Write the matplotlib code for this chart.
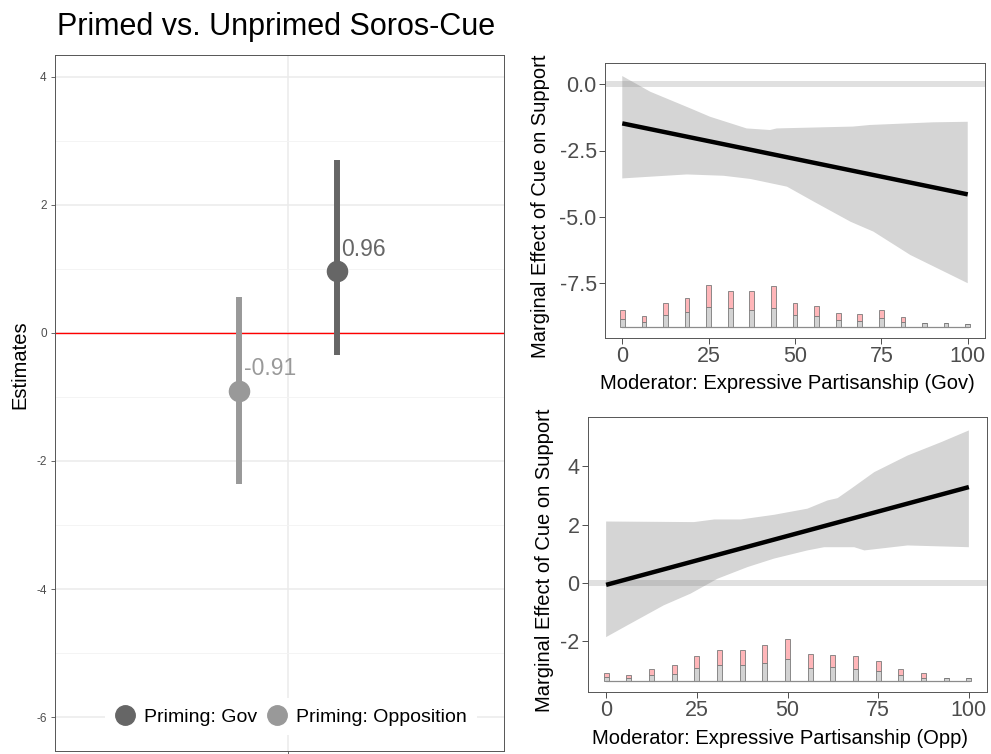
import matplotlib
matplotlib.use('Agg')
import matplotlib.pyplot as plt
import numpy as np
from matplotlib.lines import Line2D

plt.rcParams['font.family'] = ['Liberation Sans', 'DejaVu Sans']
plt.rcParams['axes.unicode_minus'] = False

# ---------------- Left panel data ----------------
title = 'Primed vs. Unprimed Soros-Cue'
groups = ['Priming: Gov', 'Priming: Opposition']
estimates = [0.96, -0.91]
ci_low = [-0.34, -2.36]
ci_high = [2.70, 0.56]
est_labels = ['0.96', '-0.91']
group_colors = ['#666666', '#999999']
left_yticks = [-6, -4, -2, 0, 2, 4]

# ---------------- Right panels data ----------------
mod_ends = [0, 100]
gov_line = [-1.48, -4.15]
gov_up_x = [0, 8.1, 19.6, 25.4, 36.0, 42.8, 44.7, 66.8, 71.7, 90, 100]
gov_up_y = [0.30, -0.29, -0.91, -1.23, -1.67, -1.73, -1.67, -1.60, -1.54, -1.44, -1.42]
gov_lo_x = [0, 18.7, 29.3, 37.1, 47.7, 55.4, 66.1, 72.7, 83.4, 100]
gov_lo_y = [-3.55, -3.40, -3.45, -3.57, -3.86, -4.42, -5.18, -5.55, -6.43, -7.49]

opp_line = [-0.06, 3.29]
opp_up_x = [0, 24.2, 29.8, 37.1, 46.3, 55.5, 61.0, 63.8, 67.5, 73.9, 83.1, 92.4, 100]
opp_up_y = [2.11, 2.09, 2.18, 2.18, 2.34, 2.55, 2.83, 2.91, 3.23, 3.80, 4.37, 4.83, 5.23]
opp_lo_x = [0, 5.8, 15.9, 23.3, 30.7, 39.0, 46.3, 55.5, 60.1, 68.4, 71.2, 83.1, 100]
opp_lo_y = [-1.85, -1.45, -0.76, -0.36, 0.15, 0.55, 0.84, 1.12, 1.23, 1.23, 1.12, 1.29, 1.23]

bins = [0, 6.25, 12.5, 18.75, 25, 31.25, 37.5, 43.75, 50, 56.25, 62.5, 68.75, 75,
        81.25, 87.5, 93.75, 100]
gov_hist_ctrl = [23, 15, 37, 45, 60, 58, 52, 58, 35, 32, 22, 18, 27, 15, 13, 11, 8]
gov_hist_trt = [29, 17, 36, 42, 66, 50, 56, 66, 38, 30, 20, 22, 24, 15, 0, 0, 0]
opp_hist_ctrl = [12, 8, 17, 20, 38, 48, 47, 53, 65, 40, 41, 35, 29, 19, 10, 10, 8]
opp_hist_trt = [11, 9, 18, 27, 37, 47, 48, 57, 62, 43, 38, 40, 30, 18, 13, 0, 0]

right_xticks = [0, 25, 50, 75, 100]
gov_yticks = [0.0, -2.5, -5.0, -7.5]
opp_yticks = [-2, 0, 2, 4]

W, H = 991, 754
fig = plt.figure(figsize=(W / 100, H / 100), dpi=100)


def frac(l, t, r, b):
    return [l / W, (H - b) / H, (r - l) / W, (b - t) / H]


# ---------------- Left panel ----------------
axL = fig.add_axes(frac(55, 55, 504, 751))
axL.set_xlim(0.52, 1.445)
axL.set_ylim(-6.53, 4.34)
axL.set_yticks(left_yticks)
axL.set_yticks([-5, -3, -1, 1, 3], minor=True)
axL.set_xticks([1])
axL.set_xticklabels([''])
axL.grid(True, which='major', color='#EBEBEB', linewidth=1.1, zorder=0)
axL.grid(True, which='minor', axis='y', color='#F3F3F3', linewidth=0.6, zorder=0)
axL.set_axisbelow(True)
for s in axL.spines.values():
    s.set_color('#555555')
    s.set_linewidth(0.7)
axL.tick_params(axis='both', which='major', colors='#4D4D4D', labelsize=8.5, length=3,
                width=0.6, pad=3)
axL.tick_params(axis='y', which='minor', length=0)
axL.axhline(0, color='#FF0000', linewidth=1.0, zorder=2)

xpos = [1.1, 0.9]
for i in range(len(groups)):
    axL.plot([xpos[i], xpos[i]], [ci_low[i], ci_high[i]], color=group_colors[i],
             linewidth=4.3, solid_capstyle='butt', zorder=3)
    axL.plot(xpos[i], estimates[i], 'o', color=group_colors[i], markersize=14.5, zorder=4)
    axL.text(xpos[i] + 0.01, estimates[i] + 0.35, est_labels[i], color=group_colors[i],
             fontsize=16.5, ha='left', va='center', zorder=5)

axL.set_ylabel('Estimates', fontsize=14.5)
axL.yaxis.set_label_coords(-0.058, 0.555)
fig.text(57 / W, 1 - 27 / H, title, fontsize=22, ha='left', va='center')

handles = [Line2D([], [], marker='o', linestyle='', color=c, markersize=14) for c in group_colors]
leg = axL.legend(handles, groups, loc='center', bbox_to_anchor=(0.525, 0.049), ncol=2,
                 frameon=True, fontsize=14, handletextpad=0.45, columnspacing=0.45,
                 borderpad=0.5, handlelength=1.1)
leg.get_frame().set_facecolor('white')
leg.get_frame().set_edgecolor('none')
leg.get_frame().set_alpha(1)


# ---------------- Right panels ----------------
def right_panel(rect, ylim, yticks, ytlabels, line_y, ux, uy, lx, ly, hctrl, htrt, xlabel,
                ylabel_x, xlabel_y):
    ax = fig.add_axes(rect)
    ax.set_xlim(-5, 105)
    ax.set_ylim(*ylim)
    yr = ylim[1] - ylim[0]
    ax.axhline(0, color='#000000', alpha=0.12, linewidth=4.3, zorder=1)
    poly_x = np.concatenate([ux, lx[::-1]])
    poly_y = np.concatenate([uy, ly[::-1]])
    ax.fill(poly_x, poly_y, color='#808080', alpha=0.33, linewidth=0, zorder=2)
    ax.plot(mod_ends, line_y, color='black', linewidth=3.2, zorder=4, solid_capstyle='butt')
    base = ylim[0] + 0.04 * yr
    scale = 0.153 * yr / max(np.array(hctrl) + np.array(htrt))
    hc = np.array(hctrl) * scale
    ht = np.array(htrt) * scale
    ax.bar(bins, hc, width=1.35, bottom=base, color='#D3D3D3', edgecolor='#7A7A7A',
           linewidth=0.6, zorder=3)
    ax.bar(bins, ht, width=1.35, bottom=base + hc, color='#FFB6B9', edgecolor='#7A7A7A',
           linewidth=0.6, zorder=3)
    ax.plot([0, 100], [base, base], color='#8C8C8C', linewidth=0.9, zorder=3)
    ax.set_xticks(right_xticks)
    ax.set_yticks(yticks)
    ax.set_yticklabels(ytlabels)
    ax.tick_params(axis='both', colors='#4D4D4D', labelsize=15.5, length=4, width=0.7, pad=2)
    for s in ax.spines.values():
        s.set_color('#555555')
        s.set_linewidth(0.7)
    ax.set_xlabel(xlabel, fontsize=14.5)
    ax.set_ylabel('Marginal Effect of Cue on Support', fontsize=14.5)
    ax.xaxis.set_label_coords(0.48, xlabel_y)
    ax.yaxis.set_label_coords(ylabel_x, 0.48)
    return ax


right_panel(frac(605, 63, 985, 338), (-9.55, 0.79), gov_yticks,
            ['0.0', '-2.5', '-5.0', '-7.5'], gov_line,
            np.array(gov_up_x), np.array(gov_up_y), np.array(gov_lo_x), np.array(gov_lo_y),
            gov_hist_ctrl, gov_hist_trt, 'Moderator: Expressive Partisanship (Gov)', -0.145,
            -0.131)

right_panel(frac(588, 417, 987, 692), (-3.73, 5.69), opp_yticks,
            ['-2', '0', '2', '4'], opp_line,
            np.array(opp_up_x), np.array(opp_up_y), np.array(opp_lo_x), np.array(opp_lo_y),
            opp_hist_ctrl, opp_hist_trt, 'Moderator: Expressive Partisanship (Opp)', -0.085,
            -0.135)

fig.savefig('out.png', dpi=100)
